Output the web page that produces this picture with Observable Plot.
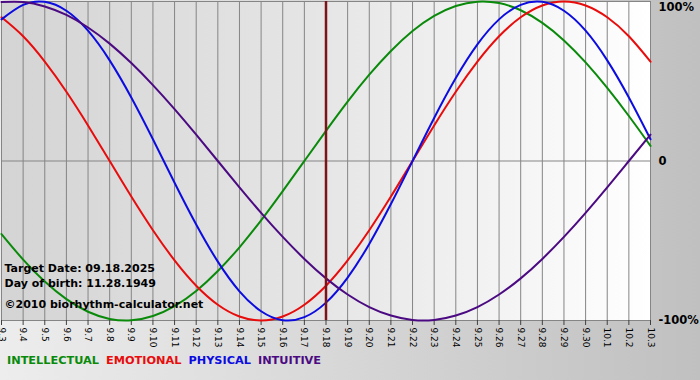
<!DOCTYPE html>
<html><head><meta charset="utf-8">
<script src="https://cdn.jsdelivr.net/npm/d3@7"></script>
<script src="https://cdn.jsdelivr.net/npm/@observablehq/plot@0.6"></script>
<style>
html,body{margin:0;padding:0;}
body{width:700px;height:380px;overflow:hidden;background:linear-gradient(to right,#ededed,#c0c0c0);font-family:"DejaVu Sans",Verdana,sans-serif;}
#legend{height:35px;box-sizing:border-box;padding:9px 0 0 7px;font-weight:bold;font-size:11.3px;line-height:14px;white-space:nowrap;}
#legend span{margin-right:7px;}
</style></head><body>
<div id="chart"></div><div id="legend"></div>
<script>
const dayLabels = ["9.3","9.4","9.5","9.6","9.7","9.8","9.9","9.10","9.11","9.12","9.13","9.14","9.15","9.16","9.17","9.18","9.19","9.20","9.21","9.22","9.23","9.24","9.25","9.26","9.27","9.28","9.29","9.30","10.1","10.2","10.3"];
const targetLabel = "9.18";
const seriesNames = ["INTELLECTUAL","EMOTIONAL","PHYSICAL","INTUITIVE"];
const seriesColors = ["#0a8a0a","#e80c0c","#0c0ce0","#4b0a82"];
const intellectual = [-45.8,-61.8,-75.6,-86.6,-94.5,-99.0,-99.9,-97.2,-91.0,-81.5,-69.0,-54.1,-37.2,-18.9,0,18.9,37.2,54.1,69.0,81.5,91.0,97.2,99.9,99.0,94.5,86.6,75.6,61.8,45.8,28.2,9.5];
const emotional = [90.1,78.2,62.3,43.4,22.3,0,-22.3,-43.4,-62.3,-78.2,-90.1,-97.5,-100,-97.5,-90.1,-78.2,-62.3,-43.4,-22.3,0,22.3,43.4,62.3,78.2,90.1,97.5,100,97.5,90.1,78.2,62.3];
const physical = [88.8,97.9,99.8,94.2,81.7,63.1,39.8,13.6,-13.6,-39.8,-63.1,-81.7,-94.2,-99.8,-97.9,-88.8,-73.1,-52.0,-27.0,0,27.0,52.0,73.1,88.8,97.9,99.8,94.2,81.7,63.1,39.8,13.6];
const intuitive = [99.7,99.7,96.9,91.6,83.7,73.6,61.4,47.6,32.5,16.5,0,-16.5,-32.5,-47.6,-61.4,-73.6,-83.7,-91.6,-96.9,-99.7,-99.7,-96.9,-91.6,-83.7,-73.6,-61.4,-47.6,-32.5,-16.5,0,16.5];
const yTicks = [100, 0, -100];
const infoLines = ["Target Date: 09.18.2025", "Day of birth: 11.28.1949", "\u00a92010 biorhythm-calculator.net"];

const seriesValues = [intellectual, emotional, physical, intuitive];
const rows = [];
seriesNames.forEach((name, s) => seriesValues[s].forEach((v, i) => rows.push({series: name, i, v})));
const targetIndex = dayLabels.indexOf(targetLabel);
const fmtY = d => d === 0 ? "0" : d + "%";
const font = '"DejaVu Sans", Verdana, sans-serif';

const chart = Plot.plot({
  width: 700, height: 345,
  marginLeft: 1, marginRight: 50, marginTop: 1, marginBottom: 25,
  style: {background: "transparent", fontFamily: font, overflow: "visible"},
  x: {domain: [0, dayLabels.length - 1]},
  y: {domain: [-100, 100]},
  color: {domain: seriesNames, range: seriesColors},
  marks: [
    Plot.frame({fill: "url(#plotBg)"}),
    Plot.ruleX(d3.range(dayLabels.length), {stroke: "#858585", strokeWidth: 1}),
    Plot.ruleY([0], {stroke: "#858585"}),
    Plot.frame({stroke: "#858585"}),
    Plot.axisX({ticks: d3.range(dayLabels.length), tickFormat: i => dayLabels[i], tickRotate: 90, tickSize: 5, tickPadding: 2, fontSize: 9, stroke: "#404040", fill: "#000", label: null}),
    Plot.axisY({anchor: "right", ticks: yTicks.filter(t => t !== 100), tickFormat: fmtY, tickSize: 0, tickPadding: 8, fontWeight: "bold", fontSize: 11.5, fill: "#000", label: null}),
    Plot.axisY({anchor: "right", ticks: yTicks.filter(t => t === 100), tickFormat: fmtY, tickSize: 0, tickPadding: 8, fontWeight: "bold", fontSize: 11.5, fill: "#000", dy: 6, label: null}),
    Plot.line(rows, {x: "i", y: "v", z: "series", stroke: "series", curve: "natural", strokeWidth: 2}),
    Plot.ruleX([targetIndex], {stroke: "#7b1418", strokeWidth: 2.5}),
    Plot.text([infoLines[0]], {text: d => d, frameAnchor: "bottom-left", dx: 3, dy: -49, textAnchor: "start", fontWeight: "bold", fontSize: 11, fill: "#000"}),
    Plot.text([infoLines[1]], {text: d => d, frameAnchor: "bottom-left", dx: 3, dy: -34, textAnchor: "start", fontWeight: "bold", fontSize: 11, fill: "#000"}),
    Plot.text([infoLines[2]], {text: d => d, frameAnchor: "bottom-left", dx: 3, dy: -13, textAnchor: "start", fontWeight: "bold", fontSize: 11, fill: "#000"})
  ]
});

const svg = chart.tagName.toLowerCase() === "svg" ? chart : chart.querySelector("svg");
const ns = "http://www.w3.org/2000/svg";
const defs = document.createElementNS(ns, "defs");
const grad = document.createElementNS(ns, "linearGradient");
grad.setAttribute("id", "plotBg");
grad.setAttribute("x1", "0"); grad.setAttribute("x2", "1"); grad.setAttribute("y1", "0"); grad.setAttribute("y2", "0");
[["0", "#d4d4d4"], ["0.5", "#e6e6e6"], ["1", "#ffffff"]].forEach(([o, c]) => {
  const st = document.createElementNS(ns, "stop");
  st.setAttribute("offset", o); st.setAttribute("stop-color", c);
  grad.appendChild(st);
});
defs.appendChild(grad);
svg.insertBefore(defs, svg.firstChild);
document.getElementById("chart").appendChild(chart);

const legend = document.getElementById("legend");
seriesNames.forEach((n, s) => {
  const sp = document.createElement("span");
  sp.textContent = n;
  sp.style.color = seriesColors[s];
  legend.appendChild(sp);
});
</script>
</body></html>
